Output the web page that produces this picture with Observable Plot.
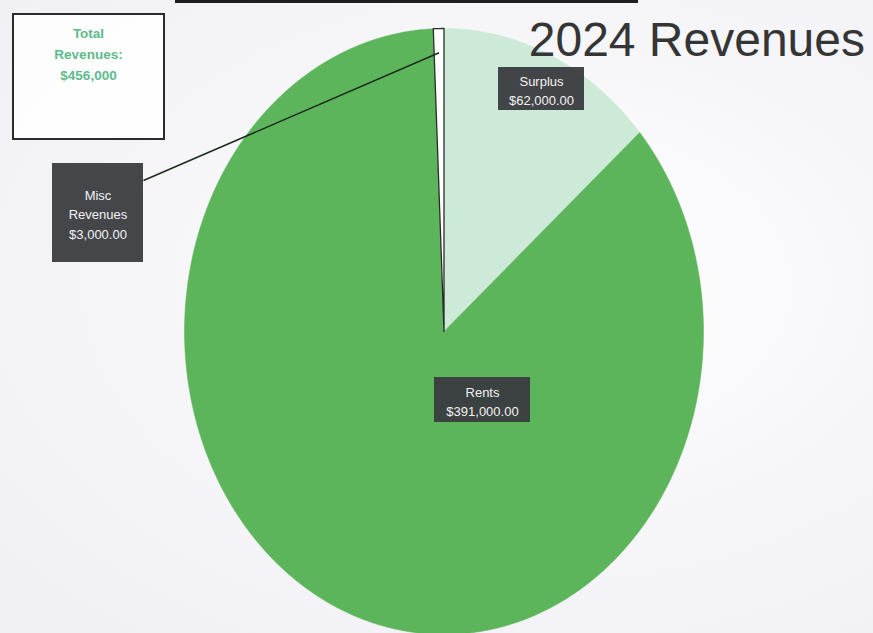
<!DOCTYPE html>
<html>
<head>
<meta charset="utf-8">
<script src="https://cdn.jsdelivr.net/npm/d3@7"></script>
<script src="https://cdn.jsdelivr.net/npm/@observablehq/plot@0.6"></script>
<style>
  html, body { margin: 0; padding: 0; }
  body {
    width: 873px; height: 633px; overflow: hidden;
    background: radial-gradient(ellipse at 62% 45%, #ffffff 0%, #f7f7fa 45%, #efeff4 100%);
    font-family: "Liberation Sans", Arial, sans-serif;
  }
  #wrap { position: relative; width: 873px; height: 633px; }
  #topline { position: absolute; left: 175px; top: 0; width: 463px; height: 3px; background: #1e1e1e; }
  #total {
    position: absolute; left: 12px; top: 13px; width: 149px; height: 115px;
    border: 2px solid #2b2b2b; background: rgba(255,255,255,0.85);
    color: #5dbb8c; font-weight: bold; font-size: 13.5px; line-height: 21px;
    text-align: center; padding-top: 8px; box-sizing: content-box;
  }
  #title {
    position: absolute; right: 8px; top: 12px; font-size: 48px; color: #353535;
    white-space: nowrap;
  }
  #chart { position: absolute; left: 0; top: 0; }
</style>
</head>
<body>
<div id="wrap">
  <div id="chart"></div>
  <div id="topline"></div>
  <div id="total"></div>
  <div id="title"></div>
</div>
<script>
// ---- data ----
const categories = ["Surplus", "Rents", "Misc\nRevenues"];
const values = [62000, 391000, 3000];
const valueLabels = ["$62,000.00", "$391,000.00", "$3,000.00"];
const sliceColors = ["#cde9d8", "#5db55b", "#ffffff"];
const titleText = "2024 Revenues";
const totalLines = ["Total", "Revenues:", "$456,000"];

// ---- layout (pixels) ----
const W = 873, H = 633;
const cx = 443.5, cy = 331, rx = 259.5, ry = 303;
const labelBoxes = [
  {cx: 541, cy: 88.5, w: 86, h: 43},
  {cx: 482, cy: 399.5, w: 96, h: 45},
  {cx: 97.5, cy: 212.5, w: 91, h: 99}
];
const leaderFrom = {x: 143, y: 180};

document.getElementById("title").textContent = titleText;
document.getElementById("total").innerHTML = totalLines.join("<br>");

// scales: data units (unit circle) -> pixels
const xDomain = [-cx / rx, (W - cx) / rx];
const yDomain = [-(H - cy) / ry, cy / ry];
const px2x = d3.scaleLinear().domain([0, W]).range(xDomain);
const px2y = d3.scaleLinear().domain([H, 0]).range(yDomain);

const slices = categories.map((c, i) => ({name: c, value: values[i], label: valueLabels[i], color: sliceColors[i]}));
const arcs = d3.pie().sort(null).value(d => d.value).startAngle(0).endAngle(2 * Math.PI)(slices);

function slicePath(a) {
  const pts = [{x: 0, y: 0}];
  const n = Math.max(2, Math.ceil((a.endAngle - a.startAngle) / (Math.PI / 360)));
  for (let k = 0; k <= n; k++) {
    const t = a.startAngle + (a.endAngle - a.startAngle) * k / n;
    pts.push({x: Math.sin(t), y: Math.cos(t)});
  }
  pts.push({x: 0, y: 0});
  return pts;
}

const sliceMarks = arcs.map((a, i) => Plot.line(slicePath(a), {
  x: "x", y: "y", curve: "linear",
  fill: a.data.color,
  stroke: i === 2 ? "#2a2a2a" : a.data.color,
  strokeWidth: i === 2 ? 1.3 : 0.5
}));

// leader for Misc slice: mid-angle point
const misc = arcs[2];
const mid = (misc.startAngle + misc.endAngle) / 2;
const leader = [{x1: px2x(leaderFrom.x), y1: px2y(leaderFrom.y), x2: 0.92 * Math.sin(mid), y2: 0.92 * Math.cos(mid)}];

const boxes = slices.map((s, i) => ({
  x1: px2x(labelBoxes[i].cx - labelBoxes[i].w / 2),
  x2: px2x(labelBoxes[i].cx + labelBoxes[i].w / 2),
  y1: px2y(labelBoxes[i].cy - labelBoxes[i].h / 2),
  y2: px2y(labelBoxes[i].cy + labelBoxes[i].h / 2),
  x: px2x(labelBoxes[i].cx), y: px2y(labelBoxes[i].cy),
  text: s.name + "\n" + s.label
}));

const chart = Plot.plot({
  width: W, height: H,
  margin: 0,
  x: {domain: xDomain, axis: null},
  y: {domain: yDomain, axis: null},
  style: {background: "transparent", fontFamily: "'Liberation Sans', Arial, sans-serif"},
  marks: [
    ...sliceMarks,
    Plot.link(leader, {x1: "x1", y1: "y1", x2: "x2", y2: "y2", stroke: "#1b2a1b", strokeWidth: 1.5}),
    Plot.rect(boxes, {x1: "x1", x2: "x2", y1: "y1", y2: "y2", fill: "#3a3c40", fillOpacity: 0.95}),
    Plot.text(boxes, {x: "x", y: "y", text: "text", fill: "#f2f2f2", fontSize: 13, lineHeight: 1.5, textAnchor: "middle", lineAnchor: "middle"})
  ]
});
document.getElementById("chart").appendChild(chart);
</script>
</body>
</html>
